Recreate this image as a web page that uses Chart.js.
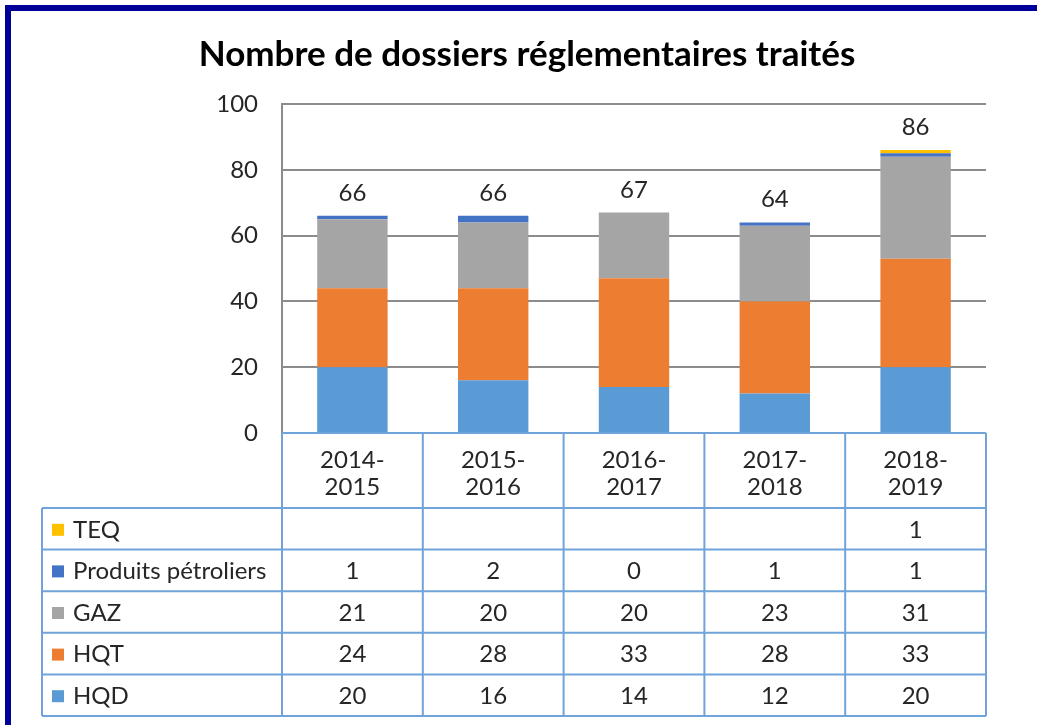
<!DOCTYPE html>
<html>
<head>
<meta charset="utf-8">
<script src="https://cdn.jsdelivr.net/npm/chart.js@4"></script>
<style>
    body { margin: 0; background: #fff; }
    #frame {
        position: absolute; left: 5px; top: 5px; width: 1100px; height: 800px;
        border-top: 6px solid #000099; border-left: 6px solid #000099;
    }
    #wrap { position: absolute; left: 0; top: 0; width: 1037px; height: 725px; }
</style>
</head>
<body>
<div id="frame"></div>
<div id="wrap"><canvas id="chart" width="1037" height="725"></canvas></div>
<script>
// Data ----------------------------------------------------------------
const years = [['2014-', '2015'], ['2015-', '2016'], ['2016-', '2017'], ['2017-', '2018'], ['2018-', '2019']];
const hqd = [20, 16, 14, 12, 20];
const hqt = [24, 28, 33, 28, 33];
const gaz = [21, 20, 20, 23, 31];
const petrol = [1, 2, 0, 1, 1];
const teq = [null, null, null, null, 1];
const yTicks = [0, 20, 40, 60, 80, 100];

const FONT = 'Lato, "Liberation Sans", sans-serif';
const TEXT = '#262626';
const TABLE_LINE = '#6fa3da';

const datasets = [
    { label: 'HQD', data: hqd, backgroundColor: '#5b9bd5' },
    { label: 'HQT', data: hqt, backgroundColor: '#ed7d31' },
    { label: 'GAZ', data: gaz, backgroundColor: '#a5a5a5' },
    { label: 'Produits pétroliers', data: petrol, backgroundColor: '#4472c4' },
    { label: 'TEQ', data: teq, backgroundColor: '#ffc000' }
];

// Totals above bars ---------------------------------------------------
const totalsPlugin = {
    id: 'totals',
    afterDatasetsDraw(chart) {
        const ctx = chart.ctx;
        const x = chart.scales.x;
        const y = chart.scales.y;
        ctx.save();
        ctx.font = '24px ' + FONT;
        ctx.fillStyle = TEXT;
        ctx.textAlign = 'center';
        ctx.textBaseline = 'alphabetic';
        years.forEach((yr, i) => {
            let total = 0;
            datasets.forEach(ds => { total += ds.data[i] || 0; });
            ctx.fillText(String(total), x.getPixelForValue(i), y.getPixelForValue(total) - 15);
        });
        ctx.restore();
    }
};

// Data table under the chart ------------------------------------------
const tablePlugin = {
    id: 'dataTable',
    afterDraw(chart) {
        const ctx = chart.ctx;
        const x = chart.scales.x;
        const area = chart.chartArea;
        const n = years.length;
        const colW = (x.right - x.left) / n;
        const tableLeft = 42;
        const headerBottom = 508;
        const rowH = 41.6;
        const rows = datasets.slice().reverse();
        const tableBottom = headerBottom + rowH * rows.length;

        ctx.save();
        ctx.strokeStyle = TABLE_LINE;
        ctx.lineWidth = 2;
        ctx.beginPath();
        // top line along the axis
        ctx.moveTo(x.left, area.bottom);
        ctx.lineTo(x.right, area.bottom);
        // vertical column lines
        for (let i = 0; i <= n; i++) {
            const px = x.left + colW * i;
            ctx.moveTo(px, area.bottom);
            ctx.lineTo(px, tableBottom);
        }
        // label column left edge
        ctx.moveTo(tableLeft, headerBottom);
        ctx.lineTo(tableLeft, tableBottom);
        // row lines
        for (let r = 0; r <= rows.length; r++) {
            const py = headerBottom + rowH * r;
            ctx.moveTo(tableLeft, py);
            ctx.lineTo(x.right, py);
        }
        ctx.stroke();

        ctx.font = '24px ' + FONT;
        ctx.fillStyle = TEXT;
        ctx.textBaseline = 'middle';
        rows.forEach((ds, r) => {
            const cy = headerBottom + rowH * r + rowH / 2 + 1;
            // legend key
            ctx.fillStyle = ds.backgroundColor;
            ctx.fillRect(tableLeft + 10, cy - 6, 12, 12);
            ctx.fillStyle = TEXT;
            ctx.textAlign = 'left';
            ctx.fillText(ds.label, tableLeft + 31, cy);
            // values
            ctx.textAlign = 'center';
            ds.data.forEach((v, i) => {
                if (v === null) return;
                ctx.fillText(String(v), x.getPixelForValue(i), cy);
            });
        });
        ctx.restore();
    }
};

const ctx = document.querySelector('#chart').getContext('2d');
new Chart(ctx, {
    type: 'bar',
    data: { labels: years, datasets: datasets },
    options: {
        responsive: false,
        animation: false,
        layout: { padding: { left: 68, right: 51, top: 0, bottom: 0 } },
        datasets: { bar: { categoryPercentage: 1, barPercentage: 0.5 } },
        scales: {
            x: {
                stacked: true,
                grid: { display: false, drawTicks: false },
                border: { display: false },
                ticks: {
                    color: TEXT,
                    padding: 14,
                    maxRotation: 0,
                    font: { family: FONT, size: 24, lineHeight: 1.13 }
                },
                afterFit(scale) { scale.height = 292; }
            },
            y: {
                stacked: true,
                min: 0,
                max: 100,
                afterBuildTicks(scale) { scale.ticks = yTicks.map(v => ({ value: v })); },
                grid: { color: '#8c8c8c', lineWidth: 2, drawTicks: false },
                border: { display: true, color: '#8c8c8c', width: 2 },
                ticks: {
                    color: TEXT,
                    padding: 24,
                    font: { family: FONT, size: 24 }
                },
                afterFit(scale) { scale.width = 214; }
            }
        },
        plugins: {
            legend: { display: false },
            tooltip: { enabled: false },
            title: {
                display: true,
                text: 'Nombre de dossiers réglementaires traités',
                color: '#000',
                font: { family: FONT, size: 35, weight: 'bold', lineHeight: 1.2 },
                padding: { top: 34, bottom: 28 }
            }
        }
    },
    plugins: [totalsPlugin, tablePlugin]
});
</script>
</body>
</html>
